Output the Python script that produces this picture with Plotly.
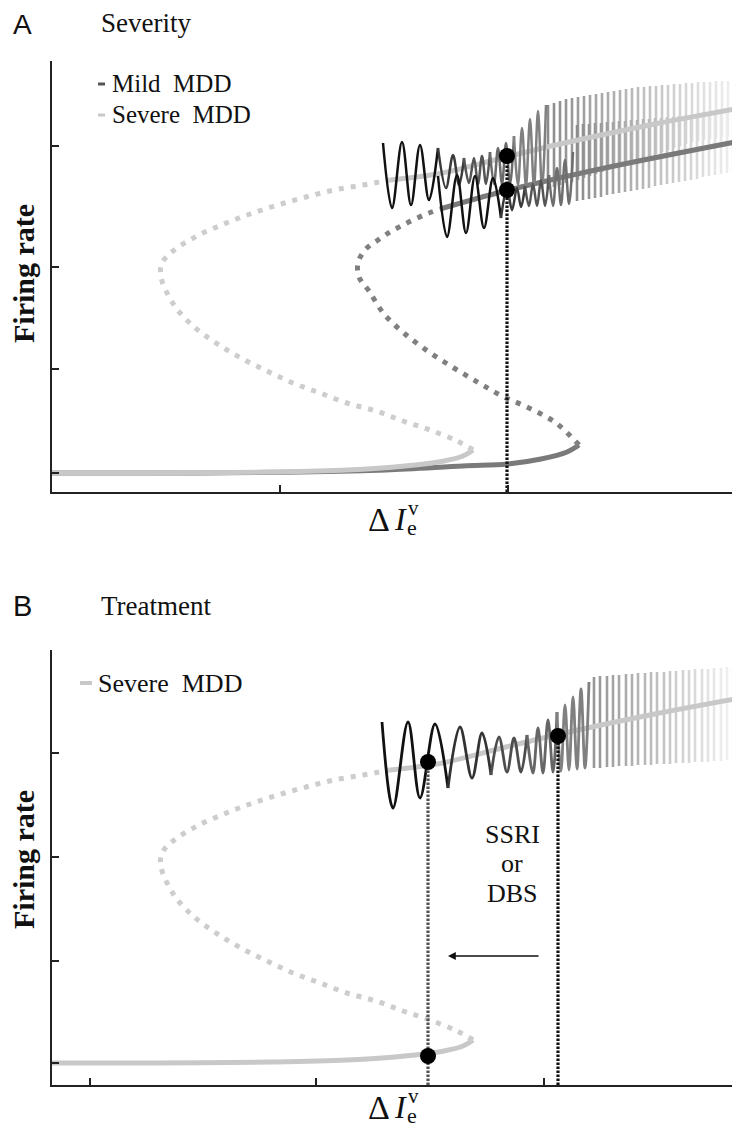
import plotly.graph_objects as go

W, H = 740, 1127

# ---------------- data (arbitrary units: x = ΔIe^v, y = firing rate) ----------------
# Severe MDD bifurcation curve (same curve in both panels)
sev_low_x = [0, 10.2, 21.8, 29.5, 35.3, 39.2, 41.1, 42.1]
sev_low_y = [1.9, 1.9, 2.0, 2.2, 2.6, 3.1, 3.6, 4.2]
sev_mid_x = [42.1, 40.5, 37.8, 35.1, 32.4, 29.5, 26.8, 24.1, 21.5, 18.9, 16.4, 14.1,
             12.2, 10.9, 11.0, 12.1, 14.5, 17.2, 19.8, 22.6, 25.4, 28.2, 31.1, 33.8]
sev_mid_y = [4.2, 5.1, 6.2, 7.1, 8.1, 8.9, 9.9, 10.9, 12.1, 13.4, 14.9, 16.6,
             18.7, 21.5, 22.9, 24.1, 25.6, 26.8, 27.8, 28.7, 29.5, 30.2, 30.7, 31.2]
sev_up_x = [33.8, 38.5, 45.4, 50.8, 59.8, 68.3]
sev_up_y = [31.2, 31.8, 33.5, 34.8, 36.7, 38.3]

# Mild MDD bifurcation curve (panel A)
mild_low_x = [0, 14.8, 24.8, 33.4, 41.1, 45.6, 48.9, 51.5, 52.7]
mild_low_y = [1.9, 1.9, 2.0, 2.2, 2.6, 2.8, 3.3, 4.0, 4.7]
mild_mid_x = [52.7, 50.4, 47.7, 45.0, 42.7, 40.2, 37.7, 35.3, 33.2, 31.7, 30.7, 30.6,
              31.3, 32.6, 33.8, 34.9, 36.3, 37.7, 38.8]
mild_mid_y = [4.7, 6.9, 8.4, 9.6, 10.9, 12.4, 14.0, 15.8, 17.8, 20.1, 21.5, 22.9,
              24.2, 25.2, 26.0, 26.6, 27.3, 27.9, 28.3]
mild_up_x = [38.8, 45.3, 54.8, 68.3]
mild_up_y = [28.3, 30.1, 32.3, 35.0]

# Oscillation traces: successive peaks / troughs
oscA_sev_x = [33.1, 34.0, 35.0, 35.9, 36.8, 37.7, 38.6, 39.4, 40.1, 40.7, 41.2, 41.7, 42.2, 42.6,
              43.0, 43.4, 43.8, 44.2, 44.6, 45.0, 45.4, 45.8, 46.2, 46.6, 47.0, 47.4, 47.8, 48.2,
              48.6, 49.0, 49.4]
oscA_sev_y = [34.9, 28.4, 35.0, 28.7, 34.7, 29.2, 34.4, 30.4, 33.7, 30.7, 33.4, 30.9, 33.4, 30.8,
              33.6, 30.8, 34.0, 30.8, 34.4, 30.8, 34.9, 30.8, 35.6, 30.7, 36.4, 30.6, 37.3, 30.5,
              38.1, 30.4, 38.7]
oscA_mild_x = [38.6, 39.5, 40.5, 41.4, 42.3, 43.2, 44.1, 44.9, 45.5, 46.0, 46.5, 46.9, 47.3, 47.7,
               48.1, 48.5, 48.9, 49.3, 49.7, 50.1, 50.5, 50.9, 51.3, 51.7, 52.1]
oscA_mild_y = [31.6, 25.5, 31.7, 25.9, 31.6, 26.4, 31.4, 27.4, 30.4, 28.2, 30.4, 28.5, 30.6, 28.6,
               30.8, 28.6, 31.2, 28.6, 31.7, 28.6, 32.4, 28.7, 33.2, 28.8, 34.0]
oscB_x = [33.0, 34.1, 35.6, 36.8, 38.3, 39.6, 40.8, 42.0, 43.0, 43.9, 44.7, 45.5, 46.2, 46.9, 47.5,
          48.1, 48.6, 49.1, 49.6, 50.1, 50.5, 50.9, 51.3, 51.7, 52.1, 52.5, 52.9, 53.3, 53.7]
oscB_y = [36.0, 27.4, 36.0, 28.4, 35.8, 29.4, 35.5, 30.4, 34.9, 30.7, 34.5, 31.0, 34.4, 31.0, 34.7,
          30.9, 35.4, 30.9, 36.2, 31.0, 37.0, 31.1, 37.7, 31.2, 38.5, 31.3, 39.3, 31.4, 40.0]

# Fast oscillation (dense strokes): position, top, bottom
strA_sev_x = [49.6, 50.2, 50.8, 51.4, 52.0, 52.6, 53.2, 53.8, 54.4, 55.0, 55.6, 56.2, 56.8, 57.4, 58.0, 58.6,
              59.2, 59.8, 60.4, 61.0, 61.6, 62.2, 62.8, 63.4, 64.0, 64.6, 65.2, 65.8, 66.4, 67.0, 67.6, 68.2]
strA_sev_top = [38.7, 38.9, 39.1, 39.3, 39.4, 39.5, 39.6, 39.7, 39.8, 39.9, 40.0, 40.1, 40.2, 40.3, 40.4, 40.5,
                40.5, 40.6, 40.6, 40.7, 40.7, 40.8, 40.8, 40.9, 40.9, 41.0, 41.0, 41.0, 41.1, 41.1, 41.1, 41.1]
strA_sev_bot = [30.3, 30.5, 30.7, 30.9, 31.0, 31.2, 31.4, 31.6, 31.8, 32.0, 32.2, 32.4, 32.6, 32.8, 33.0, 33.2,
                33.4, 33.6, 33.8, 34.0, 34.2, 34.4, 34.6, 34.8, 35.0, 35.1, 35.2, 35.3, 35.4, 35.5, 35.5, 35.6]
strA_mild_x = [52.5, 53.1, 53.7, 54.3, 54.9, 55.5, 56.1, 56.7, 57.3, 57.9, 58.5, 59.1, 59.7, 60.3,
               60.9, 61.5, 62.1, 62.7, 63.3, 63.9, 64.5, 65.1, 65.7, 66.3, 66.9, 67.5, 68.1]
strA_mild_top = [36.7, 36.8, 36.8, 36.9, 36.9, 37.0, 37.0, 37.1, 37.1, 37.2, 37.2, 37.3, 37.3, 37.4,
                 37.4, 37.5, 37.5, 37.6, 37.6, 37.7, 37.7, 37.8, 37.8, 37.9, 37.9, 38.0, 38.0]
strA_mild_bot = [29.1, 29.2, 29.3, 29.4, 29.5, 29.7, 29.8, 29.9, 30.0, 30.1, 30.2, 30.3, 30.4, 30.6,
                 30.7, 30.8, 30.9, 31.0, 31.1, 31.2, 31.3, 31.5, 31.6, 31.7, 31.8, 31.9, 32.0]
strB_x = [54.2, 54.8, 55.5, 56.1, 56.7, 57.4, 58.0, 58.6, 59.3, 59.9, 60.5, 61.2, 61.8, 62.4, 63.1,
          63.7, 64.3, 65.0, 65.6, 66.2, 66.9, 67.5, 68.1]
strB_top = [40.5, 40.6, 40.6, 40.7, 40.7, 40.8, 40.8, 40.9, 40.9, 41.0, 41.0, 41.0, 41.1, 41.1, 41.2,
            41.2, 41.3, 41.3, 41.3, 41.4, 41.4, 41.5, 41.5]
strB_bot = [31.4, 31.4, 31.5, 31.5, 31.6, 31.6, 31.6, 31.7, 31.7, 31.7, 31.8, 31.8, 31.8, 31.9, 31.9,
            31.9, 32.0, 32.0, 32.0, 32.1, 32.1, 32.2, 32.2]

# Marked states
dotsA_x = [45.5, 45.5]
dotsA_y = [33.6, 30.2]
dotsB_x = [37.6, 50.6, 37.6]
dotsB_y = [32.0, 34.6, 2.6]

# Axis ticks (no labels)
A_xticks = [22.8, 45.6, 68.28]
A_yticks = [1.9, 12.3, 22.5, 34.6, 43.08]
B_xticks = [3.8, 26.4, 49.2, 68.28]
B_yticks = [1.9, 12.1, 22.5, 32.9, 43.18]

# ---------------- styles ----------------
SEV = "#c8c8c8"
SEV_DOT = "#cdcdcd"
MILD = "#7a7a7a"
MILD_DOT = "#808080"
LW = 5
DOTDASH = "5px,7px"
SERIF = "Liberation Serif"
SANS = "Liberation Sans"
OFF = 8  # page margin of the html body

fig = go.Figure()


def line(x, y, color, width, xa, ya, dash=None, shape="spline"):
    fig.add_trace(go.Scatter(x=x, y=y, mode="lines", xaxis=xa, yaxis=ya, hoverinfo="skip",
                             line=dict(color=color, width=width, dash=dash, shape=shape, smoothing=1.0),
                             showlegend=False))


def gray(v):
    v = int(round(v))
    return f"rgb({v},{v},{v})"


def strokes(x, top, bot, g0, g1, xa, ya):
    n = len(x)
    cols = [gray(g0 + (g1 - g0) * i / max(n - 1, 1)) for i in range(n)]
    fig.add_trace(go.Bar(x=x, y=[t - b for t, b in zip(top, bot)], base=bot, width=0.26,
                         marker=dict(color=cols, line=dict(width=0)), xaxis=xa, yaxis=ya,
                         hoverinfo="skip", showlegend=False))


def osc(x, y, groups, width, xa, ya):
    for (i0, i1, c) in groups:
        line(x[i0:i1 + 1], y[i0:i1 + 1], c, width, xa, ya)


# ---------------- panel A ----------------
strokes(strA_sev_x, strA_sev_top, strA_sev_bot, 140, 240, "x", "y")
strokes(strA_mild_x, strA_mild_top, strA_mild_bot, 140, 240, "x", "y")

line(mild_low_x, mild_low_y, MILD, LW, "x", "y")
line(mild_mid_x, mild_mid_y, MILD_DOT, LW, "x", "y", dash=DOTDASH)
line(mild_up_x, mild_up_y, MILD, LW, "x", "y")
line(sev_low_x, sev_low_y, SEV, LW, "x", "y")
line(sev_mid_x, sev_mid_y, SEV_DOT, LW, "x", "y", dash=DOTDASH)
line(sev_up_x, sev_up_y, SEV, LW, "x", "y")

osc(oscA_sev_x, oscA_sev_y, [(0, 6, "#111111"), (6, 10, "#3a3a3a"), (10, 16, "#555555"),
                             (16, 22, "#6a6a6a"), (22, 30, "#808080")], 2.5, "x", "y")
osc(oscA_mild_x, oscA_mild_y, [(0, 7, "#111111"), (7, 12, "#3a3a3a"), (12, 18, "#555555"),
                               (18, 24, "#6e6e6e")], 2.5, "x", "y")

fig.add_trace(go.Scatter(x=[dotsA_x[0], dotsA_x[0]], y=[0, dotsA_y[0]], mode="lines", xaxis="x", yaxis="y",
                         line=dict(color="#111", width=3.2, dash="2.5px,1.5px"), hoverinfo="skip",
                         showlegend=False))
fig.add_trace(go.Scatter(x=dotsA_x, y=dotsA_y, mode="markers", xaxis="x", yaxis="y",
                         marker=dict(color="black", size=16), hoverinfo="skip", showlegend=False))

# ---------------- panel B ----------------
strokes(strB_x, strB_top, strB_bot, 150, 243, "x2", "y2")
line(sev_low_x, sev_low_y, SEV, LW, "x2", "y2")
line(sev_mid_x, sev_mid_y, SEV_DOT, LW, "x2", "y2", dash=DOTDASH)
line(sev_up_x, sev_up_y, SEV, LW, "x2", "y2")
osc(oscB_x, oscB_y, [(0, 5, "#111111"), (5, 9, "#333333"), (9, 14, "#4d4d4d"),
                     (14, 20, "#666666"), (20, 28, "#808080")], 2.8, "x2", "y2")

fig.add_trace(go.Scatter(x=[dotsB_x[0], dotsB_x[0]], y=[-0.3, dotsB_y[0]], mode="lines", xaxis="x2", yaxis="y2",
                         line=dict(color="#555", width=3.2, dash="2.5px,1.5px"), hoverinfo="skip",
                         showlegend=False))
fig.add_trace(go.Scatter(x=[dotsB_x[1], dotsB_x[1]], y=[-0.3, dotsB_y[1]], mode="lines", xaxis="x2", yaxis="y2",
                         line=dict(color="#111", width=3.2, dash="2.5px,1.5px"), hoverinfo="skip",
                         showlegend=False))
fig.add_trace(go.Scatter(x=dotsB_x, y=dotsB_y, mode="markers", xaxis="x2", yaxis="y2",
                         marker=dict(color="black", size=16), hoverinfo="skip", showlegend=False))


# ---------------- layout ----------------
def px(x):
    return (x - OFF) / W


def py(y):
    return 1 - (y - OFF) / H


axis_common = dict(showline=True, linecolor="#222", linewidth=2, ticks="inside", ticklen=7,
                   tickwidth=1.5, tickcolor="#222", showticklabels=False, showgrid=False,
                   zeroline=False, tickmode="array")

fig.update_layout(
    width=W, height=H, margin=dict(l=0, r=0, t=0, b=0),
    paper_bgcolor="white", plot_bgcolor="white", barmode="overlay", showlegend=False,
    xaxis=dict(domain=[px(52), px(735)], range=[0, 68.3], tickvals=A_xticks, anchor="y", **axis_common),
    yaxis=dict(domain=[py(492), py(61)], range=[0, 43.1], tickvals=A_yticks, anchor="x", **axis_common),
    xaxis2=dict(domain=[px(52), px(735)], range=[0, 68.3], tickvals=B_xticks, anchor="y2", **axis_common),
    yaxis2=dict(domain=[py(1085), py(650)], range=[-0.3, 43.2], tickvals=B_yticks, anchor="x2", **axis_common),
)

ann = []


def text(x, y, s, size, family=SERIF, xanchor="center", angle=0, color="#111"):
    ann.append(dict(x=px(x), y=py(y), xref="paper", yref="paper", text=s, showarrow=False,
                    xanchor=xanchor, yanchor="middle", textangle=angle,
                    font=dict(family=family, size=size, color=color)))


# panel labels and titles
text(22, 24, "A", 28, SANS)
text(146, 23, "Severity", 27)
text(22, 606, "B", 29, SANS)
text(156, 606, "Treatment", 27)

# y titles
text(23, 274, "<b>Firing rate</b>", 30, angle=-90)
text(23, 860, "<b>Firing rate</b>", 30, angle=-90)

# x titles: ΔI with stacked e (sub) and v (sup)
for yy in (519, 1107):
    text(392, yy, "Δ", 34, xanchor="right")
    text(392, yy, "<i>I</i>", 32, xanchor="left")
    text(405, yy + 8, "e", 22, xanchor="left")
    text(406, yy - 11, "v", 21, xanchor="left")

# legends
text(110, 83, "Mild  MDD", 25, xanchor="left")
text(110, 115, "Severe  MDD", 25, xanchor="left")
text(96, 683, "Severe  MDD", 26, xanchor="left")

# SSRI or DBS
text(512, 834, "SSRI", 26)
text(512, 863, "or", 26)
text(512, 893, "DBS", 26)

# arrow
ann.append(dict(x=39.6, y=(1082 - 956) / 10, xref="x2", yref="y2", ax=48.8, ay=(1082 - 956) / 10,
                axref="x2", ayref="y2", text="", showarrow=True, arrowhead=2, arrowsize=1.2,
                arrowwidth=1.3, arrowcolor="#111"))

fig.update_layout(annotations=ann)

shapes = [
    dict(type="line", xref="paper", yref="paper", x0=px(98), x1=px(105), y0=py(84), y1=py(84),
         line=dict(color="#555", width=3)),
    dict(type="line", xref="paper", yref="paper", x0=px(98), x1=px(105), y0=py(115), y1=py(115),
         line=dict(color=SEV, width=3)),
    dict(type="line", xref="paper", yref="paper", x0=px(80), x1=px(92), y0=py(683), y1=py(683),
         line=dict(color=SEV, width=4)),
]
fig.update_layout(shapes=shapes)

fig.write_html("out.html")
